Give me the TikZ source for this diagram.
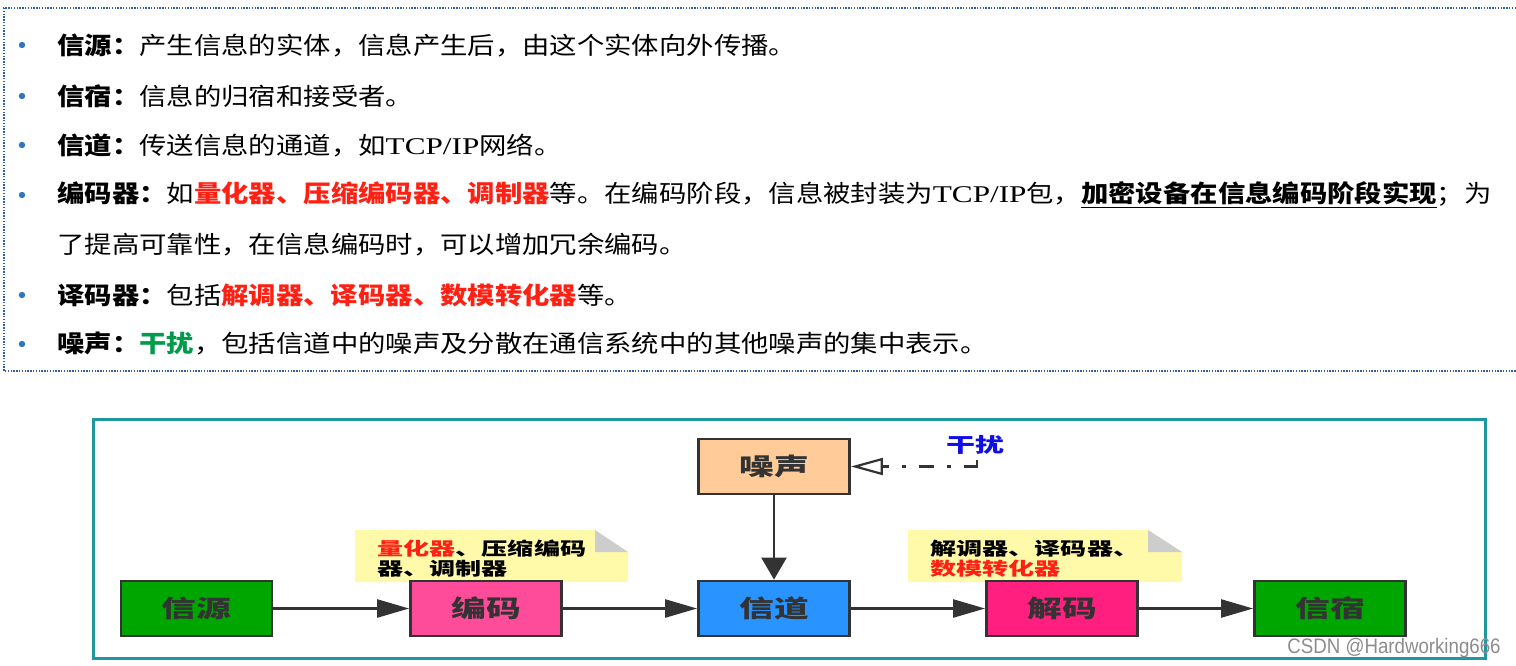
\documentclass[tikz,border=0pt]{standalone}
\usepackage{fontspec}
\setmainfont{Noto Sans CJK SC}
\newfontfamily\topcjk{Noto Sans CJK SC}[FakeStretch=1.14]
\newfontfamily\diacjk{Noto Sans CJK SC}[FakeStretch=1.45]
\newfontfamily\wmfont{Liberation Sans}[FakeStretch=0.89]
\newfontfamily\lserif{Liberation Serif}[FakeStretch=1.3]
\usetikzlibrary{arrows.meta}
\definecolor{frameblue}{RGB}{48,96,160}
\definecolor{bulletblue}{RGB}{47,116,192}
\definecolor{tred}{RGB}{255,32,20}
\definecolor{tgreen}{RGB}{0,155,75}
\definecolor{teal}{RGB}{32,150,160}
\definecolor{edge}{RGB}{51,51,51}
\definecolor{cgreen}{RGB}{0,166,0}
\definecolor{cpink}{RGB}{255,76,154}
\definecolor{cblue}{RGB}{41,148,255}
\definecolor{cdeep}{RGB}{255,31,127}
\definecolor{cpeach}{RGB}{255,204,153}
\definecolor{noteyellow}{RGB}{255,249,170}
\definecolor{foldgray}{RGB}{205,205,205}
\definecolor{gblue}{RGB}{16,16,230}
\definecolor{wmgray}{RGB}{140,140,140}
\begin{document}
\begin{tikzpicture}[x=0.5pt,y=-0.5pt,
  topline/.style={anchor=west,inner sep=0pt,font=\topcjk\fontsize{12pt}{14pt}\selectfont,text=black},
  blk/.style={draw=edge,line width=1.4pt,minimum width=75.5pt,minimum height=27.5pt,inner sep=0pt,
    font=\diacjk\bfseries\fontsize{12pt}{13pt}\selectfont,text=edge},
  notetxt/.style={anchor=west,inner sep=0pt,font=\diacjk\bfseries\fontsize{9pt}{10pt}\selectfont,text=black},
  harr/.style={draw=edge,line width=1.2pt,-{Triangle[length=16pt,width=9pt]}},
  varr/.style={draw=edge,line width=1.2pt,-{Triangle[length=11pt,width=12.5pt]}},
  dasharr/.style={draw=edge,line width=1.1pt,dash pattern=on 10pt off 6.5pt on 2pt off 6.5pt on 7.5pt off 6.5pt on 2pt off 6.5pt,
    -{Triangle[open,length=16pt,width=8.5pt,line width=1.1pt]}}
]
\useasboundingbox (0,0) rectangle (1516,665);
% top dotted frame
\draw[frameblue,line width=0.7pt,dash pattern=on 0.7pt off 0.7pt] (1516,8) -- (4,8) -- (4,371) -- (1516,371);
% bullets
\foreach \yy in {45,96,145,195,295,344}{\fill[bulletblue] (22,\yy) circle[radius=1.6pt];}
% text lines
\node[topline] (l1) at (57,45) {\textbf{信源：}产生信息的实体，信息产生后，由这个实体向外传播。};
\node[topline] (l2) at (57,96) {\textbf{信宿：}信息的归宿和接受者。};
\node[topline] (l3) at (57,145) {\textbf{信道：}传送信息的通道，如{\lserif TCP/IP}网络。};
\node[topline] (l4) at (57,195) {\textbf{编码器：}如\textcolor{tred}{\textbf{量化器、压缩编码器、调制器}}等。在编码阶段，信息被封装为{\lserif TCP/IP}包，\underline{\textbf{加密设备在信息编码阶段实现}}；为};
\node[topline] (l5) at (57,245) {了提高可靠性，在信息编码时，可以增加冗余编码。};
\node[topline] (l6) at (57,295) {\textbf{译码器：}包括\textcolor{tred}{\textbf{解调器、译码器、数模转化器}}等。};
\node[topline] (l7) at (57,344) {\textbf{噪声：}\textcolor{tgreen}{\textbf{干扰}}，包括信道中的噪声及分散在通信系统中的其他噪声的集中表示。};
% lower frame
\draw[teal,line width=1.5pt] (93,419) rectangle (1485,658);
% notes
\fill[noteyellow] (355,530) -- (595,530) -- (628,552) -- (628,582) -- (355,582) -- cycle;
\fill[foldgray] (595,530) -- (595,552) -- (628,552) -- cycle;
\node[notetxt] (n1a) at (377,549) {\textcolor{tred}{量化器}、压缩编码};
\node[notetxt] (n1b) at (377,569) {器、调制器};
\fill[noteyellow] (908,530) -- (1148,530) -- (1182,552) -- (1182,582) -- (908,582) -- cycle;
\fill[foldgray] (1148,530) -- (1148,552) -- (1182,552) -- cycle;
\node[notetxt] (n2a) at (930,549) {解调器、译码器、};
\node[notetxt] (n2b) at (930,569) {\textcolor{tred}{数模转化器}};
% boxes
\node[blk,fill=cpeach] (noise) at (774,466.5) {噪声};
\node[blk,fill=cgreen] (src) at (196.5,608.5) {信源};
\node[blk,fill=cpink] (enc) at (486,608.5) {编码};
\node[blk,fill=cblue] (chn) at (774,608.5) {信道};
\node[blk,fill=cdeep] (dec) at (1062,608.5) {解码};
\node[blk,fill=cgreen] (snk) at (1330,608.5) {信宿};
% connectors
\draw[harr] (src) -- (enc);
\draw[harr] (enc) -- (chn);
\draw[harr] (chn) -- (dec);
\draw[harr] (dec) -- (snk);
\draw[varr] (noise) -- (chn);
\coordinate (gr) at (977,460);
\draw[dasharr] (gr) |- (noise.east);
\node[inner sep=0pt,font=\diacjk\bfseries\fontsize{10pt}{11pt}\selectfont,text=gblue] (grl) at (975,445) {干扰};
% watermark
\node[anchor=base west,inner sep=0pt,font=\wmfont\fontsize{10.5pt}{12pt}\selectfont,text=wmgray] (wm) at (1287,653) {CSDN @Hardworking666};
\end{tikzpicture}
\end{document}
